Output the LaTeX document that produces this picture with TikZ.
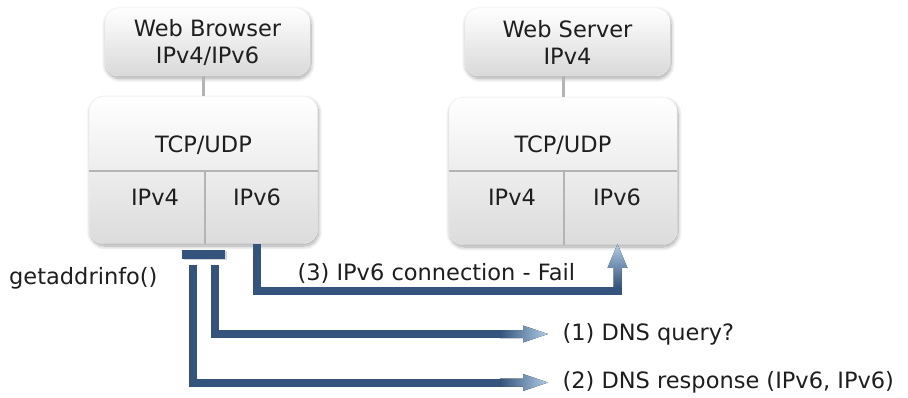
\documentclass[tikz,border=0pt]{standalone}
\usepackage{fontspec}
\setmainfont{DejaVu Sans}
\usetikzlibrary{shadows.blur}

\definecolor{flow}{HTML}{34547E}
\definecolor{flowlight}{HTML}{B0CCE4}
\definecolor{divider}{HTML}{B4B4B4}
\definecolor{ink}{HTML}{1E1E1E}

\tikzset{
  label text/.style={font=\fontsize{22.5}{27}\selectfont, text=ink},
  soft shadow/.style={blur shadow={shadow blur steps=10, shadow xshift=1pt,
      shadow yshift=-2.5pt, shadow opacity=35, shadow blur radius=4pt}},
  hostbox/.style={rounded corners=14pt, top color=white, bottom color=black!15,
      draw=black!6, minimum width=205pt, minimum height=68pt, align=center,
      soft shadow, label text},
  stackbox/.style={rounded corners=14pt, top color=white, bottom color=black!14,
      draw=black!6, minimum width=228pt, minimum height=147pt, soft shadow},
  cell/.style={label text, inner sep=0pt},
  link/.style={draw=divider, line width=3pt},
  divider line/.style={draw=divider, line width=2pt},
  flowline/.style={draw=flow, line width=8pt, line join=miter,
      preaction={draw=black, opacity=.16,
        transform canvas={shift={(1.5pt,-1.5pt)}}}},
  fade right/.style={left color=flow, right color=flowlight},
  fade up/.style={bottom color=flow, top color=flowlight},
}

\begin{document}
\begin{tikzpicture}[x=1pt, y=-1pt]
  \useasboundingbox (0,0) rectangle (908,398);

  % browser host and its protocol stack
  \node[hostbox] (browser) at (207.5,42) {Web Browser\\IPv4/IPv6};
  \node[stackbox] (bstack) at (203.5,170) {};
  \draw[divider line] (bstack.west |- 0,171) -- (bstack.east |- 0,171);
  \draw[divider line] (205,171) -- (bstack.south -| 205,0);
  \node[cell] (btcp) at (203.5,145) {TCP/UDP};
  \node[cell] (bv4) at (155,197) {IPv4};
  \node[cell] (bv6) at (257,197) {IPv6};
  \draw[link] (bstack.north |- browser.south) -- (bstack.north);

  % server host and its protocol stack
  \node[hostbox] (server) at (567.5,42) {Web Server\\IPv4};
  \node[stackbox] (sstack) at (563,171) {};
  \draw[divider line] (sstack.west |- 0,171) -- (sstack.east |- 0,171);
  \draw[divider line] (564,171) -- (sstack.south -| 564,0);
  \node[cell] (stcp) at (563,145) {TCP/UDP};
  \node[cell] (sv4) at (512,197) {IPv4};
  \node[cell] (sv6) at (617,197) {IPv6};
  \draw[link] (sstack.north |- server.south) -- (sstack.north);

  % resolver call
  \node[label text, anchor=west, inner sep=0pt] (gai) at (9,278) {getaddrinfo()};
  \node[fill=flow, minimum width=43pt, minimum height=9pt, inner sep=0pt,
        preaction={fill=black, opacity=.16,
          transform canvas={shift={(1.5pt,-1.5pt)}}}] (bar) at (203.5,254.5) {};

  % message labels
  \node[label text, anchor=west] (conn) at (294,273) {(3) IPv6 connection - Fail};
  \node[label text, anchor=west] (query) at (559,334) {(1) DNS query?};
  \node[label text, anchor=west] (resp) at (559,382.5) {(2) DNS response (IPv6, IPv6)};

  % (1) DNS query
  \coordinate (q0) at (215,265);
  \coordinate (qa) at (500,334);
  \draw[flowline] (q0) |- (qa);
  \fill[fade right, shift={(qa)}] (0,-4) -- (23,-4) -- (23,-8.5) -- (48,0)
      -- (23,8.5) -- (23,4) -- (0,4) -- cycle;

  % (2) DNS response
  \coordinate (r0) at (193,265);
  \coordinate (ra) at (500,382.5);
  \draw[flowline] (r0) |- (ra);
  \fill[fade right, shift={(ra)}] (0,-4) -- (23,-4) -- (23,-8.5) -- (48,0)
      -- (23,8.5) -- (23,4) -- (0,4) -- cycle;

  % (3) IPv6 connection attempt towards the server
  \coordinate (c0) at (bv6 |- bstack.south);
  \coordinate (c1) at (617.5,291);
  \coordinate (ca) at (617.5,287);
  \draw[flowline] (c0) |- (c1) -- (ca);
  \fill[fade up, shift={(ca)}] (-4,0) -- (-4,-19) -- (-10,-19) -- (0,-43)
      -- (10,-19) -- (4,-19) -- (4,0) -- cycle;
\end{tikzpicture}
\end{document}
